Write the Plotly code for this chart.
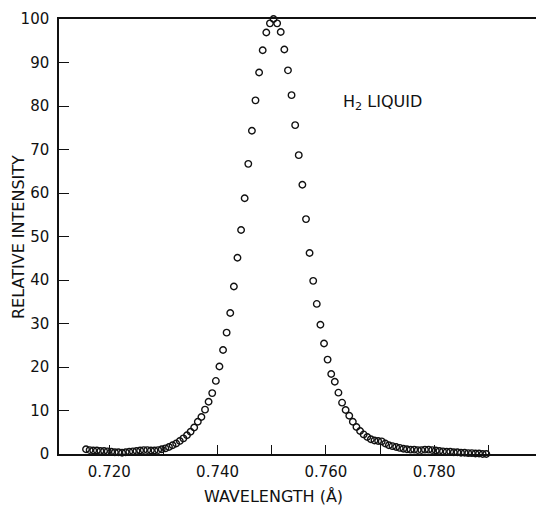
import plotly.graph_objects as go

wavelength = [
    0.71570, 0.71637, 0.71703, 0.71770, 0.71836, 0.71903, 0.71970, 0.72036, 0.72103, 0.72169,
    0.72236, 0.72303, 0.72369, 0.72436, 0.72502, 0.72569, 0.72636, 0.72702, 0.72769, 0.72835,
    0.72902, 0.72969, 0.73035, 0.73102, 0.73168, 0.73235, 0.73302, 0.73368, 0.73435, 0.73501,
    0.73568, 0.73635, 0.73701, 0.73768, 0.73834, 0.73901, 0.73968, 0.74034, 0.74101, 0.74167,
    0.74234, 0.74301, 0.74367, 0.74434, 0.74500, 0.74567, 0.74634, 0.74700, 0.74767, 0.74833,
    0.74900, 0.74967, 0.75033, 0.75100, 0.75166, 0.75233, 0.75300, 0.75366, 0.75433, 0.75499,
    0.75566, 0.75633, 0.75699, 0.75766, 0.75832, 0.75899, 0.75966, 0.76032, 0.76099, 0.76165,
    0.76232, 0.76299, 0.76365, 0.76432, 0.76498, 0.76565, 0.76632, 0.76698, 0.76765, 0.76831,
    0.76898, 0.76965, 0.77031, 0.77098, 0.77164, 0.77231, 0.77298, 0.77364, 0.77431, 0.77497,
    0.77564, 0.77631, 0.77697, 0.77764, 0.77830, 0.77897, 0.77964, 0.78030, 0.78097, 0.78163,
    0.78230, 0.78297, 0.78363, 0.78430, 0.78496, 0.78563, 0.78630, 0.78696, 0.78763, 0.78829,
    0.78896, 0.78963, 0.79029,
]

# Relative intensity of each point
intensity = [
    1.1, 0.9, 0.8, 0.8, 0.7, 0.7, 0.6, 0.5, 0.4, 0.4,
    0.3, 0.4, 0.5, 0.6, 0.7, 0.8, 0.9, 0.9, 0.8, 0.8,
    0.9, 1.1, 1.3, 1.6, 2.0, 2.4, 3.0, 3.6, 4.3, 5.1,
    6.1, 7.4, 8.5, 10.2, 12.0, 14.0, 16.8, 20.1, 23.9, 27.9,
    32.4, 38.5, 45.1, 51.5, 58.8, 66.7, 74.3, 81.3, 87.7, 92.8,
    96.9, 99.0, 100.0, 99.0, 97.0, 93.0, 88.2, 82.5, 75.6, 68.7,
    61.9, 54.0, 46.2, 39.8, 34.5, 29.7, 25.4, 21.7, 18.4, 16.6,
    14.1, 11.8, 10.1, 8.8, 7.4, 6.2, 5.3, 4.5, 3.9, 3.4,
    3.1, 3.0, 2.9, 2.4, 2.0, 1.8, 1.6, 1.4, 1.2, 1.1,
    1.0, 1.0, 0.9, 0.9, 1.0, 1.0, 0.9, 0.8, 0.7, 0.6,
    0.5, 0.5, 0.4, 0.4, 0.3, 0.3, 0.2, 0.2, 0.1, 0.1,
    0.0, 0.0, -0.2,
]

x_tickvals = [0.720, 0.740, 0.760, 0.780]
x_ticktext = ["0.720", "0.740", "0.760", "0.780"]
x_minor_tickvals = [0.730, 0.750, 0.770, 0.790]
y_tickvals = [0, 10, 20, 30, 40, 50, 60, 70, 80, 90, 100]
y_ticktext = ["0", "10", "20", "30", "40", "50", "60", "70", "80", "90", "100"]

FONT = "DejaVu Sans"
INK = "#111111"

fig = go.Figure()
fig.add_trace(go.Scatter(
    x=wavelength, y=intensity, mode="markers",
    marker=dict(symbol="circle-open", size=6.5, color=INK, line=dict(width=1.4, color=INK)),
    cliponaxis=False, showlegend=False, hoverinfo="skip",
))

fig.update_layout(
    width=538, height=506,
    margin=dict(l=59, r=2, t=19, b=52),
    paper_bgcolor="white", plot_bgcolor="white",
    font=dict(family=FONT, size=15, color=INK),
    xaxis=dict(
        range=[0.71071, 0.79881], showgrid=False, zeroline=False,
        showline=True, linecolor=INK, linewidth=1.5, mirror=True,
        ticks="inside", ticklen=9, tickwidth=1.3, tickcolor=INK,
        tickvals=x_tickvals, ticktext=x_ticktext,
        minor=dict(tickvals=x_minor_tickvals, ticks="inside", ticklen=9,
                   tickwidth=1.3, tickcolor=INK, showgrid=False),
        tickfont=dict(family=FONT, size=15, color=INK),
        ticklabelstandoff=3,
    ),
    yaxis=dict(
        range=[0, 100], showgrid=False, zeroline=False,
        showline=True, linecolor=INK, linewidth=1.5,
        ticks="inside", ticklen=10, tickwidth=1.3, tickcolor=INK,
        tickvals=y_tickvals, ticktext=y_ticktext,
        tickfont=dict(family=FONT, size=15, color=INK),
        ticklabelstandoff=5,
    ),
    annotations=[
        dict(text="WAVELENGTH (Å)", xref="paper", yref="paper",
             x=(273 - 59) / (536 - 59), y=-(497 - 454) / (454 - 19),
             xanchor="center", yanchor="middle", showarrow=False,
             font=dict(family=FONT, size=16, color=INK)),
        dict(text="RELATIVE INTENSITY", xref="paper", yref="paper",
             x=-(59 - 19) / (536 - 59), y=(454 - 237) / (454 - 19),
             xanchor="center", yanchor="middle", textangle=-90, showarrow=False,
             font=dict(family=FONT, size=16, color=INK)),
        dict(text="H<sub>2</sub> LIQUID", xref="paper", yref="paper",
             x=(341 - 59) / (536 - 59), y=(454 - 102) / (454 - 19),
             xanchor="left", yanchor="middle", showarrow=False,
             font=dict(family=FONT, size=16, color=INK)),
    ],
)

fig.write_html("out.html")
